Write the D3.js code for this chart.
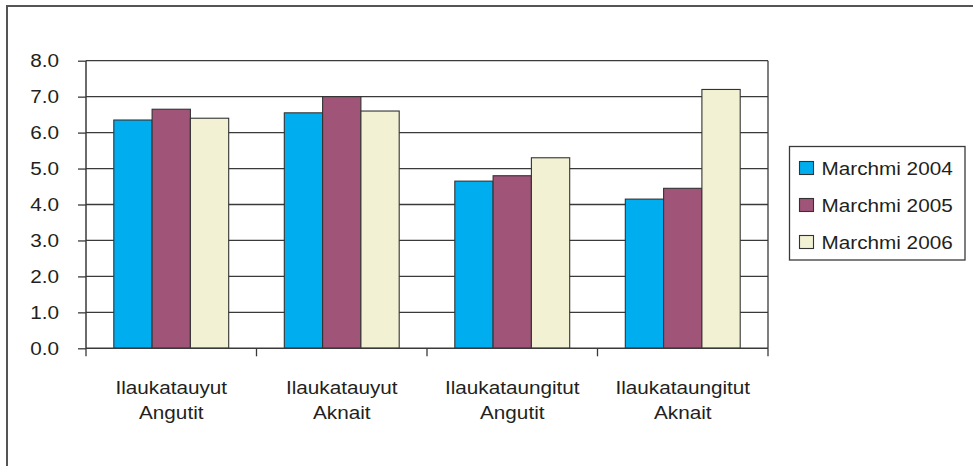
<!DOCTYPE html>
<html>
<head>
<meta charset="utf-8">
<script src="https://cdn.jsdelivr.net/npm/d3@7"></script>
<style>
  html, body { margin: 0; padding: 0; background: #fff; }
  svg { display: block; }
  text { font-family: "Liberation Sans", Arial, Helvetica, sans-serif; fill: #231f20; }
</style>
</head>
<body>
<svg id="chart" width="973" height="466"></svg>
<script>
const categories = [["Ilaukatauyut", "Angutit"], ["Ilaukatauyut", "Aknait"], ["Ilaukataungitut", "Angutit"], ["Ilaukataungitut", "Aknait"]];
const seriesNames = ["Marchmi 2004", "Marchmi 2005", "Marchmi 2006"];
const values2004 = [6.35, 6.55, 4.65, 4.15];
const values2005 = [6.65, 7.0, 4.8, 4.45];
const values2006 = [6.4, 6.6, 5.3, 7.2];
const yTicks = [0, 1, 2, 3, 4, 5, 6, 7, 8];
const colors = ["#00aeef", "#a05478", "#f2f1d3"];

(function () {
const seriesValues = [values2004, values2005, values2006];
const svg = d3.select("#chart");
const FS = 18.5, SX = 1.12;

// outer frame (left and top edges)
svg.append("path").attr("d", "M7,466 L7,6 L973,6").attr("fill", "none").attr("stroke", "#555").attr("stroke-width", 2);

const pL = 86, pR = 768, pT = 60.7, pB = 348.3;
const x0 = d3.scaleBand().domain(d3.range(categories.length)).range([pL, pR]).paddingInner(0).paddingOuter(0);
const x1 = d3.scaleBand().domain(d3.range(seriesNames.length)).range([0, x0.bandwidth()]).paddingInner(0).paddingOuter(0.726);
const y = d3.scaleLinear().domain([0, 8]).range([pB, pT]);

// gridlines
svg.append("g").selectAll("line").data(yTicks.filter(d => d > 0)).join("line")
  .attr("x1", pL).attr("x2", pR).attr("y1", d => y(d)).attr("y2", d => y(d))
  .attr("stroke", "#3a3a3a").attr("stroke-width", 1.3);

// right border
svg.append("line").attr("x1", pR).attr("x2", pR).attr("y1", pT).attr("y2", pB)
  .attr("stroke", "#3a3a3a").attr("stroke-width", 1.3);

// bars
const groups = svg.append("g").selectAll("g").data(categories).join("g")
  .attr("transform", (d, i) => `translate(${x0(i)},0)`);
groups.selectAll("rect").data((d, i) => seriesValues.map((s, j) => ({ j, v: s[i] }))).join("rect")
  .attr("x", d => x1(d.j)).attr("width", x1.bandwidth())
  .attr("y", d => y(d.v)).attr("height", d => y(0) - y(d.v))
  .attr("fill", d => colors[d.j]).attr("stroke", "#333").attr("stroke-width", 1.1);

// y axis
const yAxis = d3.axisLeft(y).tickValues(yTicks).tickSize(8).tickPadding(18).tickFormat(d3.format(".1f"));
const gy = svg.append("g").attr("transform", `translate(${pL},0)`).call(yAxis);
gy.attr("font-family", null).attr("font-size", null);
gy.select(".domain").attr("stroke", "#3a3a3a").attr("stroke-width", 1.5).attr("d", `M0,${pT}V${pB}`);
gy.selectAll(".tick line").attr("stroke", "#3a3a3a").attr("stroke-width", 1.3);
gy.selectAll(".tick text").each(function () {
  d3.select(this).attr("font-size", FS).attr("fill", "#231f20")
   .attr("transform", `translate(-18,0) scale(${SX},1) translate(18,0)`);
});

// x axis with boundary ticks
const boundaries = d3.range(categories.length + 1).map(i => pL + i * x0.step());
const gx = svg.append("g");
gx.append("line").attr("x1", pL).attr("x2", pR).attr("y1", pB).attr("y2", pB)
  .attr("stroke", "#3a3a3a").attr("stroke-width", 1.6);
gx.selectAll("line.tk").data(boundaries).join("line").attr("class", "tk")
  .attr("x1", d => d).attr("x2", d => d).attr("y1", pB).attr("y2", pB + 8)
  .attr("stroke", "#3a3a3a").attr("stroke-width", 1.3);

const labels = svg.append("g").selectAll("text").data(categories).join("text")
  .attr("text-anchor", "middle").attr("font-size", FS)
  .attr("transform", (d, i) => `translate(${x0(i) + x0.bandwidth() / 2},394) scale(${SX},1)`);
labels.selectAll("tspan").data(d => d).join("tspan")
  .attr("x", 0).attr("y", (d, k) => k * 25).text(d => d);

// legend
const lg = svg.append("g");
lg.append("rect").attr("x", 789.5).attr("y", 146.5).attr("width", 175.5).attr("height", 113.5)
  .attr("fill", "#fff").attr("stroke", "#3a3a3a").attr("stroke-width", 1.3);
const items = lg.selectAll("g").data(seriesNames).join("g")
  .attr("transform", (d, i) => `translate(0,${i * 37})`);
items.append("rect").attr("x", 799.5).attr("y", 161.5).attr("width", 14).attr("height", 13)
  .attr("fill", (d, i) => colors[i]).attr("stroke", "#333").attr("stroke-width", 1.1);
items.append("text").attr("font-size", FS)
  .attr("transform", `translate(821.5,175) scale(${SX},1)`).text(d => d);
})();
</script>
</body>
</html>
